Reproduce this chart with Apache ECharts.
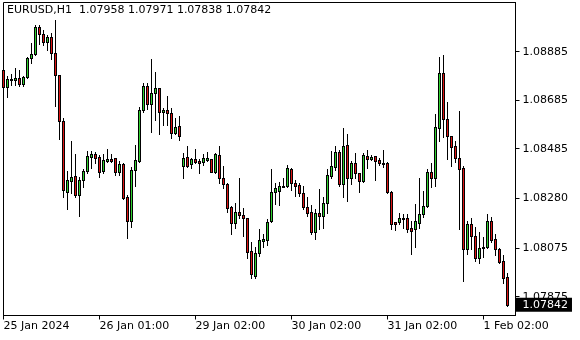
<!DOCTYPE html>
<html>
<head>
<meta charset="utf-8">
<script src="https://cdn.jsdelivr.net/npm/echarts@6/dist/echarts.min.js"></script>
<style>html,body{margin:0;padding:0;background:#fff}#c{width:580px;height:340px}</style>
</head>
<body>
<div id="c"></div>
<script>
const symbolTitle = 'EURUSD,H1  1.07958 1.07971 1.07838 1.07842';
const opens = [1.08810,1.08738,1.08767,1.08767,1.08775,1.08751,1.08779,1.08858,1.08874,1.08988,1.08958,1.08926,1.08947,1.08881,1.08788,1.08599,1.08308,1.08353,1.08373,1.08293,1.08355,1.08392,1.08452,1.08463,1.08452,1.08393,1.08436,1.08441,1.08447,1.08388,1.08421,1.08286,1.08185,1.08397,1.08436,1.08645,1.08744,1.08668,1.08713,1.08734,1.08635,1.08645,1.08631,1.08551,1.08578,1.08415,1.08450,1.08422,1.08441,1.08434,1.08432,1.08439,1.08443,1.08388,1.08459,1.08363,1.08340,1.08246,1.08180,1.08225,1.08212,1.08198,1.08063,1.07962,1.08054,1.08106,1.08107,1.08187,1.08305,1.08312,1.08329,1.08331,1.08400,1.08342,1.08336,1.08301,1.08246,1.08223,1.08143,1.08219,1.08209,1.08260,1.08374,1.08411,1.08470,1.08338,1.08500,1.08363,1.08425,1.08384,1.08353,1.08455,1.08441,1.08455,1.08439,1.08425,1.08425,1.08305,1.08182,1.08182,1.08198,1.08198,1.08157,1.08154,1.08180,1.08215,1.08249,1.08388,1.08363,1.08569,1.08796,1.08608,1.08539,1.08496,1.08445,1.08404,1.08070,1.08174,1.08127,1.08033,1.08075,1.08079,1.08187,1.08112,1.08070,1.08022,1.07958];
const highs = [1.08814,1.08785,1.08793,1.08817,1.08810,1.08785,1.08862,1.08920,1.08995,1.08995,1.08974,1.08953,1.08961,1.09016,1.08790,1.08610,1.08393,1.08517,1.08463,1.08370,1.08403,1.08477,1.08477,1.08473,1.08458,1.08463,1.08485,1.08463,1.08447,1.08436,1.08425,1.08296,1.08411,1.08500,1.08656,1.08757,1.08757,1.08855,1.08803,1.08734,1.08652,1.08702,1.08654,1.08613,1.08620,1.08466,1.08496,1.08448,1.08483,1.08441,1.08463,1.08470,1.08443,1.08469,1.08496,1.08414,1.08345,1.08249,1.08262,1.08365,1.08240,1.08198,1.08099,1.08079,1.08154,1.08133,1.08194,1.08401,1.08342,1.08347,1.08363,1.08418,1.08404,1.08356,1.08342,1.08331,1.08287,1.08253,1.08235,1.08320,1.08287,1.08401,1.08476,1.08496,1.08480,1.08569,1.08546,1.08436,1.08466,1.08384,1.08466,1.08480,1.08459,1.08455,1.08445,1.08480,1.08432,1.08310,1.08182,1.08219,1.08216,1.08216,1.08188,1.08257,1.08365,1.08310,1.08401,1.08425,1.08628,1.08864,1.08871,1.08676,1.08539,1.08517,1.08641,1.08414,1.08188,1.08198,1.08161,1.08141,1.08120,1.08216,1.08202,1.08133,1.08075,1.08046,1.07971];
const lows = [1.08716,1.08697,1.08748,1.08748,1.08745,1.08745,1.08775,1.08837,1.08871,1.08916,1.08913,1.08892,1.08854,1.08661,1.08524,1.08285,1.08235,1.08304,1.08287,1.08209,1.08326,1.08384,1.08404,1.08425,1.08370,1.08384,1.08432,1.08432,1.08377,1.08377,1.08277,1.08119,1.08164,1.08333,1.08432,1.08638,1.08649,1.08555,1.08603,1.08546,1.08583,1.08583,1.08530,1.08546,1.08521,1.08366,1.08411,1.08404,1.08427,1.08386,1.08418,1.08434,1.08388,1.08384,1.08342,1.08324,1.08223,1.08132,1.08157,1.08198,1.08127,1.08033,1.07953,1.07951,1.08043,1.08081,1.08088,1.08184,1.08257,1.08253,1.08328,1.08328,1.08315,1.08291,1.08291,1.08235,1.08208,1.08134,1.08112,1.08153,1.08160,1.08221,1.08363,1.08397,1.08331,1.08287,1.08271,1.08340,1.08363,1.08308,1.08349,1.08404,1.08439,1.08356,1.08418,1.08411,1.08304,1.08154,1.08150,1.08175,1.08160,1.08143,1.08051,1.08079,1.08157,1.08205,1.08246,1.08328,1.08333,1.08518,1.08535,1.08443,1.08415,1.08432,1.08153,1.07941,1.08050,1.08072,1.08023,1.08013,1.08040,1.08075,1.08099,1.08046,1.08014,1.07930,1.07838];
const closes = [1.08738,1.08771,1.08771,1.08775,1.08751,1.08779,1.08858,1.08874,1.08987,1.08958,1.08926,1.08947,1.08878,1.08788,1.08599,1.08314,1.08355,1.08368,1.08293,1.08356,1.08394,1.08456,1.08463,1.08448,1.08390,1.08439,1.08441,1.08436,1.08390,1.08421,1.08283,1.08189,1.08397,1.08439,1.08645,1.08744,1.08668,1.08713,1.08734,1.08635,1.08645,1.08631,1.08551,1.08573,1.08539,1.08445,1.08415,1.08443,1.08430,1.08427,1.08445,1.08448,1.08390,1.08463,1.08366,1.08338,1.08242,1.08180,1.08225,1.08212,1.08198,1.08060,1.07967,1.08054,1.08109,1.08113,1.08183,1.08305,1.08322,1.08331,1.08330,1.08404,1.08342,1.08333,1.08301,1.08246,1.08218,1.08143,1.08219,1.08209,1.08260,1.08377,1.08414,1.08470,1.08338,1.08496,1.08363,1.08425,1.08384,1.08353,1.08459,1.08441,1.08451,1.08436,1.08425,1.08424,1.08308,1.08174,1.08176,1.08198,1.08197,1.08153,1.08147,1.08187,1.08216,1.08249,1.08388,1.08366,1.08573,1.08796,1.08606,1.08539,1.08493,1.08445,1.08400,1.08070,1.08174,1.08127,1.08033,1.08075,1.08081,1.08187,1.08109,1.08070,1.08019,1.07953,1.07842];
const slotCount = 129;
const xTickIndex = [0, 24, 48, 72, 96, 120];
const xTickLabels = ['25 Jan 2024', '26 Jan 01:00', '29 Jan 02:00', '30 Jan 02:00', '31 Jan 02:00', '1 Feb 02:00'];
const yTickValues = [1.07875, 1.08075, 1.08280, 1.08485, 1.08685, 1.08885];
const lastPrice = 1.07842;
const yMin = 1.0779748, yMax = 1.0908782;

const BULL = '#2fd02f', BEAR = '#dc1414', EDGE = '#000';
const categories = [];
for (let i = 0; i < slotCount; i++) categories.push(String(i));
const rows = opens.map((o, i) => [i, o, closes[i], lows[i], highs[i]]);

const FONT = 'DejaVu Sans';
const showTick = (idx) => xTickIndex.indexOf(idx) >= 0;

function box(x, y, w, h, fill) {
  return {type: 'rect', shape: {x: x, y: y, width: w, height: h}, style: {fill: fill, stroke: null, lineWidth: 0}};
}

function renderCandle(params, api) {
  const i = api.value(0);
  const o = api.value(1), c = api.value(2), l = api.value(3), h = api.value(4);
  const pO = api.coord([i, o]), pC = api.coord([i, c]);
  const pH = api.coord([i, h]), pL = api.coord([i, l]);
  const fx = Math.floor(pO[0]);
  const yH = Math.round(pH[1]), yL = Math.round(pL[1]);
  const top = Math.round(Math.min(pO[1], pC[1]));
  const bot = Math.round(Math.max(pO[1], pC[1]));
  const children = [box(fx, yH, 1, Math.max(1, yL - yH + 1), EDGE)];
  if (bot > top) {
    children.push(box(fx - 1, top, 3, bot - top + 1, EDGE));
    if (bot - top >= 2) children.push(box(fx, top + 1, 1, bot - top - 1, c >= o ? BULL : BEAR));
  } else {
    children.push(box(fx - 1, top, 3, 1, EDGE));
  }
  return {type: 'group', children: children};
}

const chart = echarts.init(document.getElementById('c'), null, {renderer: 'canvas', devicePixelRatio: 1});
chart.setOption({
  animation: false,
  backgroundColor: '#fff',
  title: {
    text: symbolTitle, left: 7, top: 5, padding: 0,
    textStyle: {fontSize: 11, fontWeight: 'normal', fontFamily: FONT, color: '#000'}
  },
  grid: {left: 3.5, top: 2.5, width: 512, bottom: 24.5, show: true, borderColor: '#000', borderWidth: 1, backgroundColor: '#fff'},
  xAxis: {
    type: 'category', data: categories, boundaryGap: false,
    axisLine: {show: true, lineStyle: {color: '#000', width: 1}},
    axisTick: {show: true, interval: showTick, length: 4, lineStyle: {color: '#000'}},
    axisLabel: {
      show: true, interval: showTick, align: 'left', margin: 5,
      fontSize: 11, fontFamily: FONT, color: '#000',
      formatter: (v) => { const k = xTickIndex.indexOf(Number(v)); return k >= 0 ? xTickLabels[k] : ''; }
    },
    splitLine: {show: false}
  },
  yAxis: {
    type: 'value', position: 'right', min: yMin, max: yMax, scale: true,
    axisLine: {show: true, lineStyle: {color: '#000', width: 1}},
    axisTick: {show: true, customValues: yTickValues, length: 4, lineStyle: {color: '#000'}},
    axisLabel: {show: true, customValues: yTickValues, margin: 7, fontSize: 11, fontFamily: FONT, color: '#000',
      formatter: (v) => v.toFixed(5)},
    splitLine: {show: false}
  },
  series: [{
    type: 'custom', data: rows, renderItem: renderCandle, silent: true, clip: false,
    encode: {x: 0, y: [1, 2, 3, 4]},
    markLine: {
      silent: true, symbol: ['none', 'none'], animation: false, precision: 5,
      lineStyle: {color: 'rgba(0,0,0,0)', width: 0, type: 'solid'},
      label: {show: true, position: 'end', distance: 0, formatter: () => lastPrice.toFixed(5),
        backgroundColor: '#000', color: '#fff', fontSize: 11, fontFamily: FONT,
        padding: [1, 4, 0, 7], lineHeight: 13},
      data: [{yAxis: lastPrice}]
    }
  }]
});
</script>
</body>
</html>
